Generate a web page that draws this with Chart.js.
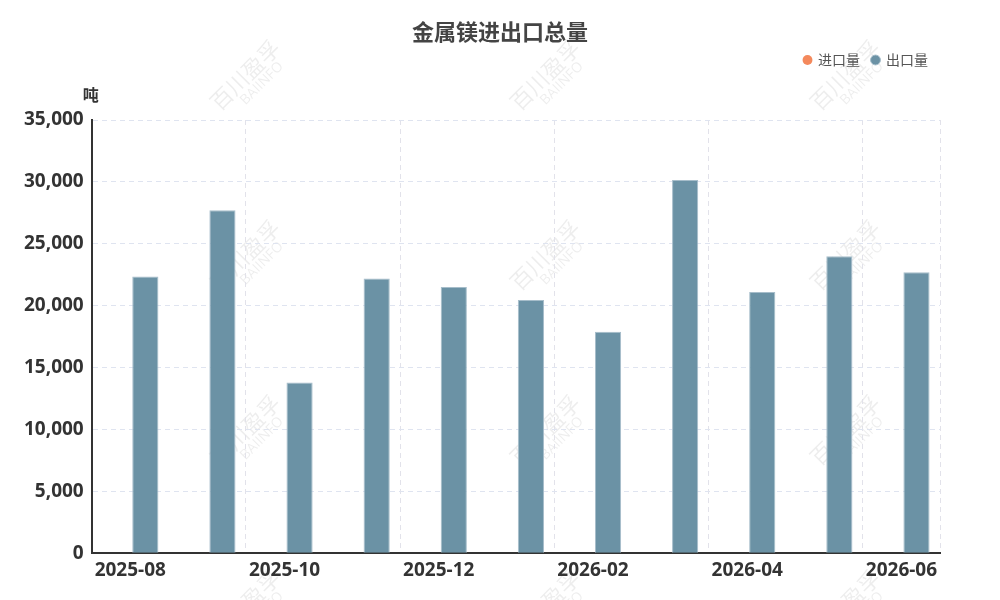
<!DOCTYPE html>
<html>
<head>
<meta charset="utf-8">
<script src="https://cdn.jsdelivr.net/npm/chart.js@4"></script>
<style>
  html, body { margin: 0; padding: 0; background: #fff; }
  #wrap { width: 1000px; height: 600px; }
</style>
</head>
<body>
<div id="wrap"><canvas id="grafico"></canvas></div>
<script>
// ── Datos ─────────────────────────────────────
const meses = ['2025-08', '2025-09', '2025-10', '2025-11', '2025-12', '2026-01',
               '2026-02', '2026-03', '2026-04', '2026-05', '2026-06']
const importacion = [null, null, null, null, null, null, null, null, null, null, null]
const exportacion = [22350, 27700, 13800, 22200, 21500, 20450, 17900, 30150, 21100, 24000, 22700]
const yMax = 35000
const yPaso = 5000
const TITULO = '金属镁进出口总量'

const FUENTE = "'Open Sans', 'Noto Sans CJK SC', sans-serif"
Chart.defaults.font.family = FUENTE
Chart.defaults.color = '#333'

// ── Título centrado, marca de agua, unidad ────
const extras = {
  id: 'extras',
  beforeInit(chart) {
    // más aire entre la leyenda y el área del gráfico
    const fitOriginal = chart.legend.fit
    chart.legend.fit = function () {
      fitOriginal.call(this)
      this.height += 43
    }
  },
  beforeDraw(chart) {
    const ctx = chart.ctx
    ctx.save()
    ctx.fillStyle = 'rgba(0,0,0,0.07)'
    ctx.textAlign = 'center'
    const cols = [245, 545, 845]
    const filas = [75, 255, 430, 605]
    filas.forEach(y => cols.forEach(x => {
      ctx.save()
      ctx.translate(x, y)
      ctx.rotate(-Math.PI / 4)
      ctx.font = "22px 'Noto Sans CJK SC'"
      ctx.fillText('百川盈孚', 0, 0)
      ctx.font = "14px 'Open Sans'"
      ctx.fillText('BAIINFO', 6, 18)
      ctx.restore()
    }))
    ctx.restore()
  },
  afterDraw(chart) {
    const ctx = chart.ctx
    const y = chart.scales.y
    ctx.save()
    ctx.textAlign = 'center'
    ctx.textBaseline = 'middle'
    // título (centrado en todo el lienzo)
    ctx.fillStyle = '#444'
    ctx.font = "bold 22px 'Noto Sans CJK SC'"
    ctx.fillText(TITULO, chart.width / 2, 32)
    // unidad del eje Y
    ctx.fillStyle = '#333'
    ctx.font = "bold 16px 'Noto Sans CJK SC'"
    ctx.fillText('吨', y.right - 1, y.top - 25)
    ctx.restore()
  }
}

new Chart(document.getElementById('grafico'), {
  type: 'bar',
  data: {
    labels: meses,
    datasets: [
      {
        label: '进口量',
        data: importacion,
        backgroundColor: '#f4895c',
        borderColor: '#f4895c'
      },
      {
        label: '出口量',
        data: exportacion,
        backgroundColor: '#6b92a5',
        borderColor: '#a6bdca',
        borderWidth: 1
      }
    ]
  },
  options: {
    responsive: true,
    maintainAspectRatio: false,
    animation: false,
    categoryPercentage: 0.78,
    barPercentage: 0.87,
    layout: { padding: { left: 16, right: 60, top: 41, bottom: 12 } },
    plugins: {
      title: { display: false },
      legend: {
        position: 'top',
        align: 'end',
        labels: {
          usePointStyle: true,
          pointStyle: 'circle',
          boxWidth: 7,
          boxHeight: 7,
          color: '#555',
          font: { size: 14, family: "'Noto Sans CJK SC', sans-serif" },
          padding: 12
        }
      },
      tooltip: { enabled: false }
    },
    scales: {
      x: {
        grid: {
          offset: true,
          drawTicks: false,
          color: ctx => (ctx.type === 'tick' && ctx.index % 2 === 1) ? 'transparent' : '#e2e2ea'
        },
        border: { display: true, color: '#333', width: 2, dash: [5, 4] },
        ticks: {
          autoSkip: false,
          maxRotation: 0,
          padding: 6,
          color: '#333',
          font: { size: 19, weight: 'bold' },
          callback: function (val, i) { return i % 2 === 0 ? this.getLabelForValue(val) : '' }
        }
      },
      y: {
        min: 0,
        max: yMax,
        grid: { color: '#dfe4f0', drawTicks: false },
        border: { display: true, color: '#333', width: 2, dash: [5, 4] },
        ticks: {
          stepSize: yPaso,
          padding: 8,
          color: '#333',
          font: { size: 19, weight: 'bold' },
          callback: v => v.toLocaleString('en-US')
        }
      }
    }
  },
  plugins: [extras]
})
</script>
</body>
</html>
